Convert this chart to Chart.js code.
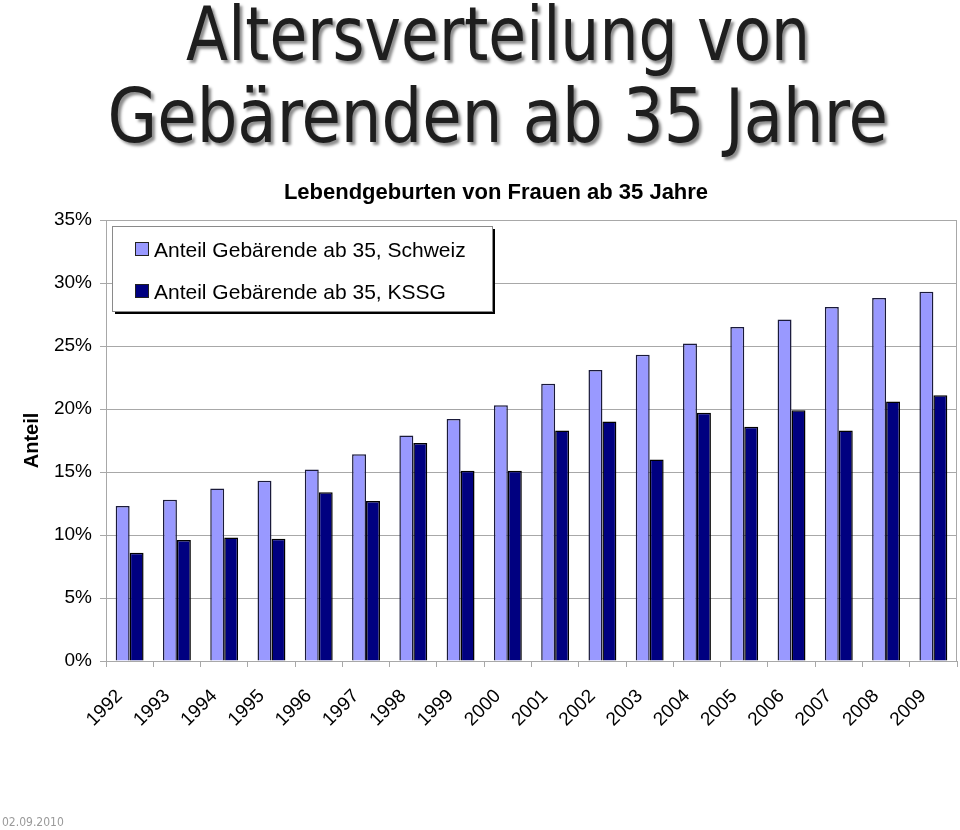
<!DOCTYPE html>
<html>
<head>
<meta charset="utf-8">
<script src="https://cdn.jsdelivr.net/npm/chart.js@4.4.0/dist/chart.umd.min.js"></script>
<style>
  html, body { margin: 0; padding: 0; background: #fff; }
  .page { position: relative; width: 960px; height: 830px; overflow: hidden; }
  .big-title {
    position: absolute; left: 18px; top: -7px; width: 960px;
    text-align: center; font-family: "DejaVu Sans Condensed", "DejaVu Sans", sans-serif;
    font-size: 75px; line-height: 82px; color: #1e1e1e;
    text-shadow: 3px 3px 3px rgba(0,0,0,0.45);
  }
  .big-title div { white-space: nowrap; }
  .big-title span { display: inline-block; }
  .big-title .l1 { transform: scaleX(0.912); }
  .big-title .l2 { transform: scaleX(0.95); }
  .chart-title {
    position: absolute; left: 16px; top: 179px; width: 960px; text-align: center;
    font-family: "Liberation Sans", Arial, sans-serif; font-weight: bold; font-size: 22px;
    color: #000; line-height: 26px;
  }
  .date {
    position: absolute; left: 2px; bottom: 1px;
    font-family: "DejaVu Sans Condensed", sans-serif; font-size: 12px; color: #9a9a9a;
  }
  canvas { position: absolute; left: 0; top: 0; }
</style>
</head>
<body>
<div class="page">
  <canvas id="myChart" width="960" height="830"></canvas>
  <div class="big-title">
    <div><span class="l1">Altersverteilung von</span></div>
    <div><span class="l2">Gebärenden ab 35 Jahre</span></div>
  </div>
  <div class="chart-title">Lebendgeburten von Frauen ab 35 Jahre</div>
  <div class="date">02.09.2010</div>
</div>
<script>
const years = ['1992', '1993', '1994', '1995', '1996', '1997', '1998', '1999', '2000',
  '2001', '2002', '2003', '2004', '2005', '2006', '2007', '2008', '2009'];

const schweizValues = [12.3, 12.8, 13.7, 14.3, 15.2, 16.4, 17.9, 19.2, 20.3,
  22.0, 23.1, 24.3, 25.2, 26.5, 27.1, 28.1, 28.8, 29.3];
const kssgValues = [8.6, 9.6, 9.8, 9.7, 13.4, 12.7, 17.3, 15.1, 15.1,
  18.3, 19.0, 16.0, 19.7, 18.6, 19.9, 18.3, 20.6, 21.1];

const seriesNames = ['Anteil Gebärende ab 35, Schweiz', 'Anteil Gebärende ab 35, KSSG'];
const seriesColors = ['#9999ff', '#000080'];

const yMax = 35;
const yStep = 5;

const fontFamily = '"Liberation Sans", Arial, sans-serif';
const gridColor = '#a8a8a8';

// legend box sitting inside the plot area, top left
const boxLegend = {
  id: 'boxLegend',
  afterDatasetsDraw(chart) {
    const ctx = chart.ctx;
    const area = chart.chartArea;
    const x = area.left + 6;
    const y = area.top + 6;
    const w = 380;
    const h = 85;

    ctx.save();
    ctx.fillStyle = '#000';
    ctx.fillRect(x + 3, y + 3, w, h);
    ctx.fillStyle = '#fff';
    ctx.fillRect(x, y, w, h);
    ctx.strokeStyle = '#8a8a8a';
    ctx.lineWidth = 1;
    ctx.strokeRect(x + 0.5, y + 0.5, w, h);

    ctx.font = '21px ' + fontFamily;
    ctx.textBaseline = 'alphabetic';
    chart.data.datasets.forEach((ds, i) => {
      const rowY = y + 16 + i * 42;
      ctx.fillStyle = ds.backgroundColor;
      ctx.fillRect(x + 23, rowY, 14, 14);
      ctx.strokeStyle = '#222';
      ctx.strokeRect(x + 23.5, rowY + 0.5, 13, 13);
      ctx.fillStyle = '#000';
      ctx.fillText(ds.label, x + 42, rowY + 15);
    });
    ctx.restore();
  }
};

// right edge of plot frame
const rightFrame = {
  id: 'rightFrame',
  beforeDatasetsDraw(chart) {
    const ctx = chart.ctx;
    const area = chart.chartArea;
    ctx.save();
    ctx.strokeStyle = gridColor;
    ctx.lineWidth = 1;
    ctx.beginPath();
    ctx.moveTo(area.right - 0.5, area.top);
    ctx.lineTo(area.right - 0.5, area.bottom);
    ctx.stroke();
    ctx.restore();
  }
};

const ctx = document.getElementById('myChart').getContext('2d');
const myChart = new Chart(ctx, {
  type: 'bar',
  data: {
    labels: years,
    datasets: [{
      label: seriesNames[0],
      data: schweizValues,
      backgroundColor: seriesColors[0],
      borderColor: '#1a1a3a',
      borderWidth: 1.5
    }, {
      label: seriesNames[1],
      data: kssgValues,
      backgroundColor: seriesColors[1],
      borderColor: '#000',
      borderWidth: 1.5
    }]
  },
  options: {
    responsive: false,
    animation: false,
    layout: { padding: { top: 220, right: 3, bottom: 0, left: 0 } },
    datasets: { bar: { categoryPercentage: 0.59, barPercentage: 1 } },
    plugins: {
      legend: { display: false },
      tooltip: { enabled: false },
      title: { display: false }
    },
    scales: {
      x: {
        afterFit(scale) {
          scale.height = 169;
          scale.paddingRight = 0;
          scale.paddingLeft = 0;
        },
        grid: { drawOnChartArea: false, color: gridColor, tickLength: 6 },
        border: { color: gridColor },
        ticks: {
          color: '#000',
          font: { family: fontFamily, size: 19 },
          minRotation: 45,
          maxRotation: 45,
          autoSkip: false,
          padding: 18,
          labelOffset: -10
        }
      },
      y: {
        min: 0,
        max: yMax,
        afterFit(scale) { scale.width = 106; },
        grid: { color: gridColor, tickLength: 6 },
        border: { color: gridColor },
        ticks: {
          stepSize: yStep,
          color: '#000',
          font: { family: fontFamily, size: 19 },
          padding: 8,
          callback: (v) => v + '%'
        },
        title: {
          display: true,
          text: 'Anteil',
          color: '#000',
          font: { family: fontFamily, size: 20, weight: 'bold' },
          padding: { top: 20, bottom: 0 }
        }
      }
    }
  },
  plugins: [boxLegend, rightFrame]
});
</script>
</body>
</html>
